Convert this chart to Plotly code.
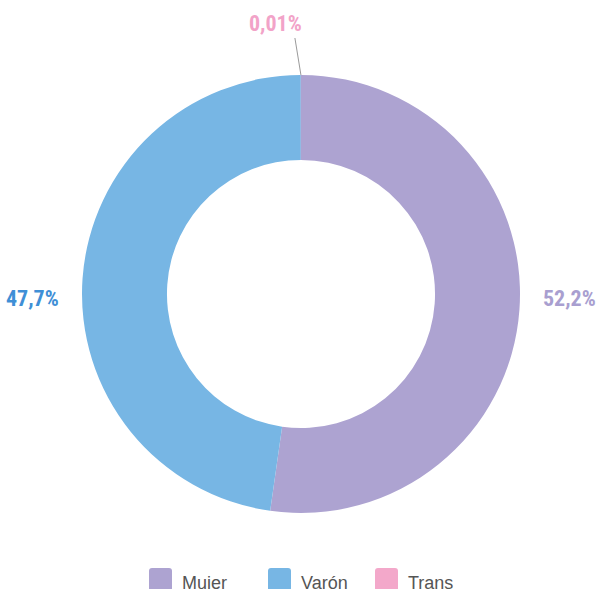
import math
import plotly.graph_objects as go

categories = ["Mujer", "Varón", "Trans"]
values = [52.2, 47.7, 0.01]
slice_colors = ["#ADA3D1", "#77B6E4", "#F3A8CA"]
label_colors = ["#A99FD0", "#3F8FD6", "#F2A3C8"]

W, H = 600, 589
CX, CY, R = 301, 294, 219
HOLE = 0.612

def px_x(x):
    return x / W

def px_y(y):
    return 1 - y / H

def fmt(v):
    s = f"{v:.2f}" if v < 0.1 else f"{v:.1f}"
    return s.replace(".", ",") + "%"

fig = go.Figure()
fig.add_trace(go.Pie(
    labels=categories, values=values, sort=False, direction="clockwise",
    rotation=0, hole=HOLE, textinfo="none", hoverinfo="label+percent",
    marker=dict(colors=slice_colors, line=dict(width=0)),
    domain=dict(x=[px_x(CX - R), px_x(CX + R)], y=[px_y(CY + R), px_y(CY - R)]),
    showlegend=False,
))

total = sum(values)
cum = 0.0
annotations = []
shapes = []
LABEL_FONT = "Roboto Condensed, Archivo Narrow, sans-serif"
LABEL_SIZE = 22
for cat, v, lc in zip(categories, values, label_colors):
    mid = (cum + v / 2) / total * 2 * math.pi
    cum += v
    s, c = math.sin(mid), math.cos(mid)
    if abs(s) > 0.5:
        r_lab = 241
        x = CX + r_lab * s
        y = CY + 4
        annotations.append(dict(
            x=px_x(x), y=px_y(y), xref="paper", yref="paper", text=fmt(v),
            showarrow=False, xanchor="left" if s > 0 else "right", yanchor="middle",
            font=dict(family=LABEL_FONT, size=LABEL_SIZE, color=lc, weight="bold"),
        ))
    else:
        x0, y0 = CX + R * s, CY - R * c
        x1, y1 = CX + 256 * s - 6, CY - 256 * c
        shapes.append(dict(type="line", xref="paper", yref="paper",
                           x0=px_x(x0), y0=px_y(y0), x1=px_x(x1), y1=px_y(y1),
                           line=dict(color="#9a9a9a", width=1)))
        annotations.append(dict(
            x=px_x(x1 + 9), y=px_y(y1 - 15), xref="paper", yref="paper", text=fmt(v),
            showarrow=False, xanchor="right", yanchor="middle",
            font=dict(family=LABEL_FONT, size=LABEL_SIZE, color=lc, weight="bold"),
        ))

# custom legend
legend_x = [149, 268, 375]
for cat, col, lx in zip(categories, slice_colors, legend_x):
    x0, x1, y0, y1 = lx, lx + 23, 568, 591
    rr = 3
    path = (f"M{px_x(x0+rr)},{px_y(y0)} L{px_x(x1-rr)},{px_y(y0)} "
            f"Q{px_x(x1)},{px_y(y0)} {px_x(x1)},{px_y(y0+rr)} "
            f"L{px_x(x1)},{px_y(y1-rr)} Q{px_x(x1)},{px_y(y1)} {px_x(x1-rr)},{px_y(y1)} "
            f"L{px_x(x0+rr)},{px_y(y1)} Q{px_x(x0)},{px_y(y1)} {px_x(x0)},{px_y(y1-rr)} "
            f"L{px_x(x0)},{px_y(y0+rr)} Q{px_x(x0)},{px_y(y0)} {px_x(x0+rr)},{px_y(y0)} Z")
    shapes.append(dict(type="path", xref="paper", yref="paper", path=path,
                       fillcolor=col, line=dict(width=0)))
    annotations.append(dict(
        x=px_x(x1 + 8), y=px_y(583), xref="paper", yref="paper", text=cat,
        showarrow=False, xanchor="left", yanchor="middle",
        font=dict(family="Liberation Sans, Arial, sans-serif", size=18, color="#555555"),
    ))

fig.update_layout(
    width=W, height=H, margin=dict(l=0, r=0, t=0, b=0),
    paper_bgcolor="white", plot_bgcolor="white",
    annotations=annotations, shapes=shapes,
)
fig.write_html("out.html", config={"displayModeBar": False},
               post_script="document.body.style.margin='0';document.body.style.padding='0';")
